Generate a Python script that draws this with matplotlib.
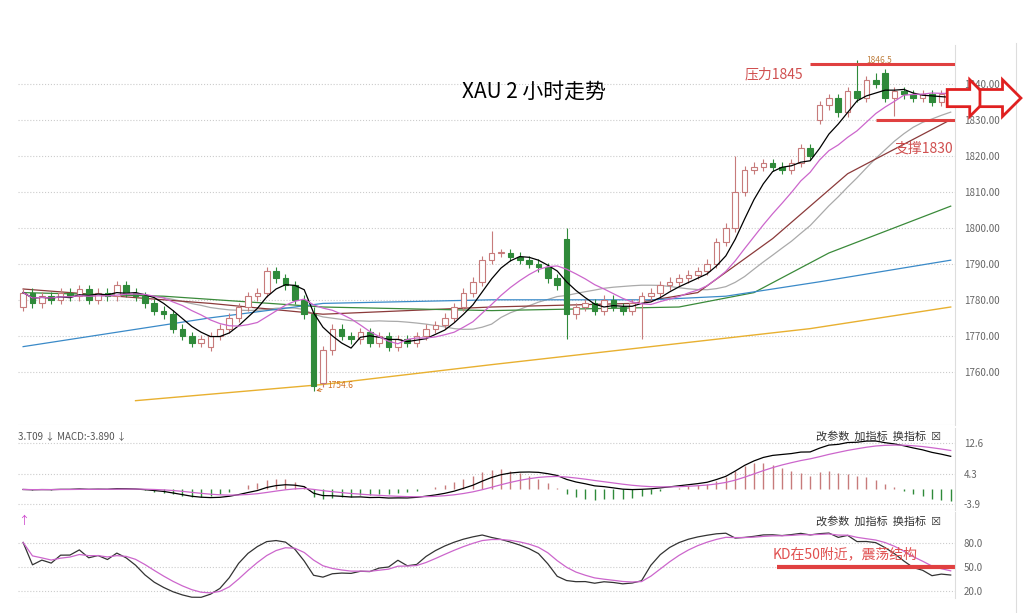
import numpy as np
import pandas as pd
import matplotlib.pyplot as plt
from matplotlib.patches import FancyArrow, Rectangle

plt.rcParams['font.family'] = ['Noto Sans CJK SC', 'DejaVu Sans']

closes = [1782,1779,1781,1780,1782,1781,1783,1780,1782,1781,1784,1782,1781,
          1779,1777,1776,1772,1770,1768,1769,1770,
          1772,1775,1778,1781,1782,1788,1786,
          1784,1780,1776,
          1756,
          1766,1772,1770,1769,1771,1768,1770,1767,1769,1768,1770,1772,1773,
          1775,1778,1782,1785,1791,1793,
          1793,1792,1791,1790,1789,
          1786,1784,1776,
          1778,1779,1777,1780,1778,1777,1779,1781,
          1782,1784,1785,1786,1787,1788,1790,1796,1800,1810,1816,
          1817,1818,1817,1816,1818,1822,1820,
          1834,1836,1832,1838,1836,1841,1840,1836,
          1838,1837,1836,1837,1835,1837,1836]
opens = [1778,1782,1779,1781,1780,1782,1781,1783,1780,1782,1781,1784,1782,
         1781,1779,1777,1776,1772,1770,1768,1767,
         1770,1772,1775,1778,1781,1782,1788,
         1786,1784,1780,
         1776,
         1757,1766,1772,1770,1769,1771,1768,1770,1767,1769,1768,1770,1772,
         1773,1775,1778,1782,1785,1791,
         1793,1793,1792,1791,1790,
         1789,1786,1797,
         1776,1778,1779,1777,1780,1778,1777,1779,
         1781,1782,1784,1785,1786,1787,1788,1790,1796,1800,1810,
         1816,1817,1818,1817,1816,1818,1822,
         1830,1834,1836,1832,1838,1836,1841,1843,
         1836,1838,1837,1836,1837,1835,1837]
highs_special = {31: 1778, 50: 1799, 58: 1800, 76: 1820, 89: 1846.5, 91: 1843}
lows_special = {31: 1754.6, 58: 1769, 66: 1769, 93: 1831}

# longer moving averages (index, value)
ma30_idx = [0, 20, 32, 50, 65, 72, 80, 88, 99]
ma30_val = [1783, 1779, 1776, 1778, 1779, 1782, 1797, 1815, 1830]
ma60_idx = [0, 15, 32, 50, 70, 78, 86, 99]
ma60_val = [1782, 1781, 1778, 1777, 1778, 1782, 1793, 1806]
ma120_idx = [0, 10, 20, 32, 50, 67, 75, 85, 99]
ma120_val = [1767, 1771, 1775, 1779, 1780, 1780, 1781, 1785, 1791]
ma250_idx = [12, 32, 50, 67, 84, 99]
ma250_val = [1752, 1756.5, 1762, 1767, 1772, 1778]

price_ticks = [1760, 1770, 1780, 1790, 1800, 1810, 1820, 1830, 1840]
macd_ticks = [12.6, 4.3, -3.9]
kd_ticks = [80.0, 50.0, 20.0]

c = pd.Series(closes, dtype=float)
o = pd.Series(opens, dtype=float)
n = len(c)
x = np.arange(n)
hi = np.maximum(o, c) + 1.2
lo = np.minimum(o, c) - 1.2
for k, v in highs_special.items():
    hi[k] = v
for k, v in lows_special.items():
    lo[k] = v

fig = plt.figure(figsize=(10.24, 6.13), dpi=100)
ax = fig.add_axes([0.018, 0.307, 0.915, 0.62])
ax1 = fig.add_axes([0.018, 0.168, 0.915, 0.134])
ax2 = fig.add_axes([0.018, 0.024, 0.915, 0.140])

red = '#c77b7b'
grn = '#2f8a3a'
for i in range(n):
    up = c[i] >= o[i]
    col = red if up else grn
    ax.vlines(i, lo[i], hi[i], color=col, lw=0.8, zorder=3)
    b = min(o[i], c[i]); h = max(abs(c[i] - o[i]), 0.3)
    ax.add_patch(Rectangle((i - 0.3, b), 0.6, h, facecolor='white' if up else grn,
                           edgecolor=col, lw=0.8, zorder=4))

ax.plot(x, c.rolling(5, min_periods=1).mean(), color='black', lw=0.9, zorder=5)
ax.plot(x, c.rolling(10, min_periods=1).mean(), color='#cc66cc', lw=0.9, zorder=5)
ax.plot(x, c.rolling(20, min_periods=1).mean(), color='#aaaaaa', lw=0.9)
ax.plot(ma30_idx, ma30_val, color='#8b3a3a', lw=0.9)
ax.plot(ma60_idx, ma60_val, color='#3a8a3a', lw=0.9)
ax.plot(ma120_idx, ma120_val, color='#3a8ac8', lw=0.9)
ax.plot(ma250_idx, ma250_val, color='#e8b030', lw=1.0)

ax.set_xlim(-0.5, n - 0.5)
ax.set_ylim(1745.3, 1850.8)
ax.hlines(1845.5, 84, n - 0.5, color='#e04040', lw=2.2, zorder=6)
ax.hlines(1829.8, 91, n - 0.5, color='#e04040', lw=2.2, zorder=6)
ax.text(77, 1841.5, '压力1845', color='#d05050', fontsize=10)
ax.text(93, 1821, '支撑1830', color='#d05050', fontsize=10)
ax.text(90, 1845.8, '1846.5', color='#c08040', fontsize=6)
ax.annotate('1754.6', xy=(31, 1754.6), xytext=(32.5, 1755.5), color='#d07020', fontsize=6,
            arrowprops=dict(arrowstyle='->', color='#d07020', lw=0.6))
ax.text(0.55, 0.86, 'XAU 2 小时走势', transform=ax.transAxes, fontsize=15, ha='center',
        family=['Noto Sans CJK SC', 'DejaVu Sans'])

# MACD
dif = c.ewm(span=12).mean() - c.ewm(span=26).mean()
dea = dif.ewm(span=9).mean()
hist = (dif - dea) * 2
ax1.vlines(x, 0, hist, colors=np.where(hist >= 0, '#c77b7b', grn), lw=1.0)
ax1.plot(x, dif, color='black', lw=0.9)
ax1.plot(x, dea, color='#cc66cc', lw=0.9)
ax1.set_xlim(-0.5, n - 0.5)
ax1.set_ylim(-5.6, 16.8)
ax1.text(0.0, 0.9, '3.T09 ↓ MACD:-3.890 ↓', transform=ax1.transAxes, fontsize=7,
         color='#555555', va='center')

# KD
low9 = pd.Series(lo).rolling(9, min_periods=1).min()
high9 = pd.Series(hi).rolling(9, min_periods=1).max()
rsv = (c - low9) / (high9 - low9) * 100
kk = rsv.ewm(com=2).mean()
dd = kk.ewm(com=2).mean()
ax2.plot(x, kk, color='#333333', lw=0.9)
ax2.plot(x, dd, color='#cc66cc', lw=0.9)
ax2.set_xlim(-0.5, n - 0.5)
ax2.set_ylim(11, 119)
ax2.hlines(50, 80.5, n - 0.5, color='#e04040', lw=3)
ax2.text(80, 62, 'KD在50附近，震荡结构', color='#e05050', fontsize=10)
ax2.text(0.0, 0.9, '↑', transform=ax2.transAxes, fontsize=8, color='#cc44cc', va='center')

for a, t in [(ax1, 0.9), (ax2, 0.9)]:
    a.text(0.985, t, '改参数  加指标  换指标  ☒', transform=a.transAxes, fontsize=8,
           ha='right', va='center', color='#333333')

for a, ticks, fmt in [(ax, price_ticks, '%.2f'), (ax1, macd_ticks, '%.1f'), (ax2, kd_ticks, '%.1f')]:
    a.yaxis.tick_right()
    a.set_yticks(ticks)
    a.set_yticklabels([fmt % t for t in ticks], fontsize=7, color='#666666')
    a.tick_params(axis='y', length=0, pad=6)
    a.set_xticks([])
    a.grid(axis='y', ls=':', color='#cccccc', lw=0.8)
    for s in ['top', 'left', 'bottom']:
        a.spines[s].set_visible(False)
    a.spines['right'].set_color('#dddddd')
    a.axhline(a.get_ylim()[0], color='#e4e4e4', lw=0.8)

# red outlined arrows on the right
for x0, w in [(0.925, 0.04), (0.957, 0.04)]:
    fig.patches.append(FancyArrow(x0, 0.84, w, 0.0, width=0.028, head_width=0.06,
                                  head_length=0.018, length_includes_head=True,
                                  transform=fig.transFigure, facecolor='white',
                                  edgecolor='#e02020', lw=2, zorder=10))
fig.add_artist(plt.Line2D([0.992, 0.992], [0.0, 0.93], color='#dddddd', lw=0.8))

plt.savefig('out.png')
